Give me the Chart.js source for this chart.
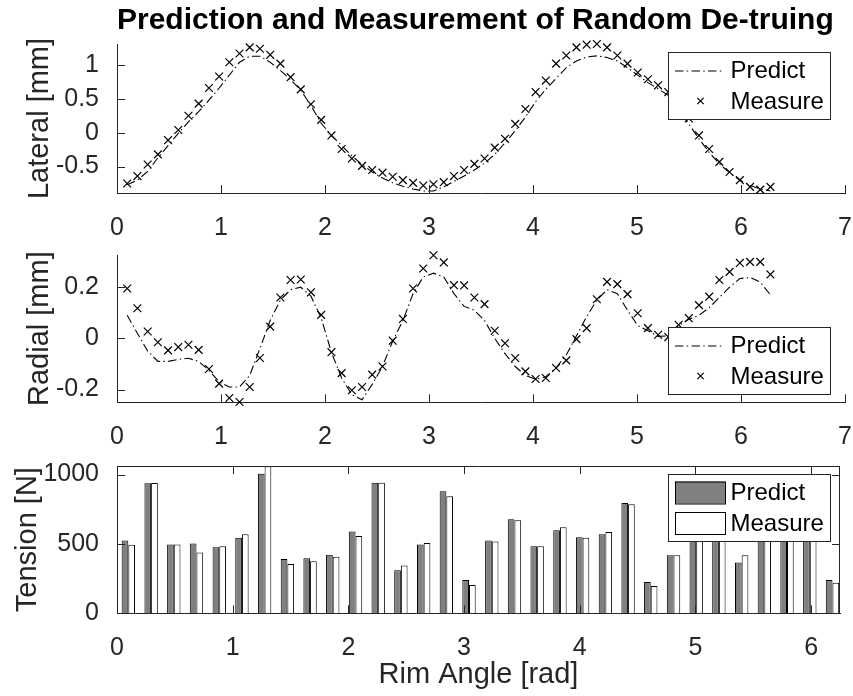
<!DOCTYPE html>
<html>
<head>
<meta charset="utf-8">
<script src="https://cdn.jsdelivr.net/npm/chart.js@4.4.0/dist/chart.umd.min.js"></script>
<style>
  html, body { margin: 0; padding: 0; background: #fff; }
  #fig { position: relative; width: 853px; height: 696px; }
  canvas { position: absolute; left: 0; }
</style>
</head>
<body>
<div id="fig">
  <canvas id="lateral" width="853" height="240" style="top:0"></canvas>
  <canvas id="radial" width="853" height="220" style="top:240px"></canvas>
  <canvas id="tension" width="853" height="236" style="top:460px"></canvas>
</div>
<script>
// sample angles [rad] of the measurements (64 per turn)
const angles = [0.098, 0.196, 0.295, 0.393, 0.491, 0.589, 0.687, 0.785, 0.884, 0.982,
  1.080, 1.178, 1.276, 1.374, 1.473, 1.571, 1.669, 1.767, 1.865, 1.963,
  2.062, 2.160, 2.258, 2.356, 2.454, 2.553, 2.651, 2.749, 2.847, 2.945,
  3.043, 3.142, 3.240, 3.338, 3.436, 3.534, 3.632, 3.731, 3.829, 3.927,
  4.025, 4.123, 4.222, 4.320, 4.418, 4.516, 4.614, 4.712, 4.811, 4.909,
  5.007, 5.105, 5.203, 5.301, 5.400, 5.498, 5.596, 5.694, 5.792, 5.890,
  5.989, 6.087, 6.185, 6.283];

const lateralPredict = [-0.77, -0.70, -0.57, -0.37, -0.19, -0.01, 0.16, 0.31, 0.48, 0.66,
  0.85, 1.04, 1.13, 1.13, 1.04, 0.92, 0.78, 0.63, 0.40, 0.14,
  -0.04, -0.19, -0.34, -0.47, -0.58, -0.67, -0.74, -0.79, -0.83, -0.86,
  -0.86, -0.80, -0.72, -0.64, -0.55, -0.45, -0.32, -0.15, 0.03, 0.23,
  0.46, 0.64, 0.80, 0.96, 1.06, 1.12, 1.135, 1.11, 1.06, 0.96,
  0.85, 0.74, 0.65, 0.55, 0.33, 0.13, -0.09, -0.29, -0.46, -0.59,
  -0.70, -0.78, -0.83, -0.86];
const lateralMeasure = [-0.75, -0.64, -0.47, -0.32, -0.11, 0.04, 0.25, 0.43, 0.66, 0.83,
  1.04, 1.17, 1.26, 1.24, 1.15, 1.02, 0.82, 0.64, 0.42, 0.19,
  -0.04, -0.24, -0.38, -0.49, -0.55, -0.59, -0.65, -0.70, -0.74, -0.78,
  -0.76, -0.73, -0.64, -0.55, -0.46, -0.38, -0.22, -0.09, 0.13, 0.35,
  0.60, 0.77, 1.02, 1.14, 1.26, 1.30, 1.31, 1.26, 1.14, 1.02,
  0.89, 0.79, 0.70, 0.60, 0.40, 0.21, -0.04, -0.24, -0.43, -0.58,
  -0.70, -0.80, -0.84, -0.80];

const radialPredict = [0.09, 0.02, -0.05, -0.09, -0.09, -0.082, -0.078, -0.09, -0.125, -0.17,
  -0.19, -0.19, -0.145, -0.04, 0.07, 0.15, 0.19, 0.20, 0.165, 0.08,
  -0.055, -0.155, -0.22, -0.24, -0.18, -0.11, -0.01, 0.07, 0.175, 0.24,
  0.255, 0.24, 0.175, 0.125, 0.11, 0.07, 0.0, -0.06, -0.11, -0.145,
  -0.16, -0.15, -0.115, -0.065, 0.01, 0.085, 0.15, 0.19, 0.175, 0.11,
  0.05, 0.03, 0.008, 0.01, 0.05, 0.075, 0.09, 0.12, 0.16, 0.20,
  0.234, 0.238, 0.22, 0.17];
const radialMeasure = [0.195, 0.118, 0.027, -0.015, -0.047, -0.034, -0.025, -0.045, -0.12, -0.177,
  -0.233, -0.249, -0.19, -0.077, 0.046, 0.16, 0.228, 0.23, 0.18, 0.092,
  -0.054, -0.136, -0.203, -0.19, -0.142, -0.11, -0.009, 0.076, 0.195, 0.273,
  0.325, 0.297, 0.208, 0.207, 0.16, 0.134, 0.03, -0.019, -0.077, -0.129,
  -0.159, -0.155, -0.116, -0.086, -0.003, 0.04, 0.153, 0.221, 0.212, 0.173,
  0.098, 0.04, 0.014, 0.005, 0.053, 0.079, 0.13, 0.163, 0.228, 0.26,
  0.295, 0.299, 0.299, 0.25];

// spoke angles [rad] (32 spokes)
const spokes = [0.098, 0.295, 0.491, 0.687, 0.884, 1.080, 1.276, 1.473, 1.669, 1.865,
  2.062, 2.258, 2.454, 2.651, 2.847, 3.043, 3.240, 3.436, 3.632, 3.829,
  4.025, 4.222, 4.418, 4.614, 4.811, 5.007, 5.203, 5.400, 5.596, 5.792,
  5.989, 6.185];
const tensionPredict = [525, 937, 496, 503, 477, 544, 1007, 391, 396, 422,
  590, 942, 311, 496, 880, 240, 525, 678, 484, 599,
  549, 570, 796, 225, 419, 650, 700, 367, 760, 620,
  580, 240];
const tensionMeasure = [494, 940, 496, 439, 484, 570, 1060, 355, 376, 407,
  558, 942, 345, 506, 844, 204, 518, 671, 484, 621,
  544, 587, 786, 196, 419, 640, 690, 419, 740, 640,
  560, 220];

// tick labels
const angleTicks = [0, 1, 2, 3, 4, 5, 6, 7];
const spokeAngleTicks = [0, 1, 2, 3, 4, 5, 6];
const lateralTicks = [-0.5, 0, 0.5, 1];
const radialTicks = [-0.2, 0, 0.2];
const tensionTicks = [0, 500, 1000];

const FONT = '"Liberation Sans", Arial, Helvetica, sans-serif';
const AXIS = '#262626';
Chart.defaults.font.family = FONT;
Chart.defaults.font.size = 25;
Chart.defaults.color = AXIS;
Chart.defaults.animation = false;

const pts = (xs, ys) => xs.map((x, i) => ({ x: x, y: ys[i] }));
const fixTicks = list => s => { s.ticks = list.map(v => ({ value: v })); };

// matlab look: inward ticks, optional box, legend inside the axes
const matlabAxes = {
  id: 'matlabAxes',
  afterDatasetsDraw(chart, args, opts) {
    const lg = opts.legend;
    if (!lg) return;
    const ctx = chart.ctx;
    const ds = chart.data.datasets;
    ctx.save();
    ctx.fillStyle = '#fff';
    ctx.fillRect(lg.x, lg.y, lg.w, lg.h);
    ctx.strokeStyle = AXIS;
    ctx.lineWidth = 1;
    ctx.strokeRect(lg.x + 0.5, lg.y + 0.5, lg.w, lg.h);
    const rows = [lg.y + 18.5, lg.y + 49];
    ds.forEach((d, i) => {
      const y = rows[i];
      ctx.strokeStyle = '#000';
      if (lg.kind === 'bar') {
        ctx.lineWidth = 1;
        ctx.fillStyle = d.backgroundColor;
        ctx.fillRect(lg.x + 7, y - 11, 50, 22);
        ctx.strokeRect(lg.x + 7.5, y - 10.5, 50, 22);
      } else if (d.showLine) {
        ctx.lineWidth = 1.2;
        ctx.setLineDash(d.borderDash);
        ctx.beginPath();
        ctx.moveTo(lg.x + 7, y + 0.5);
        ctx.lineTo(lg.x + 55, y + 0.5);
        ctx.stroke();
        ctx.setLineDash([]);
      } else {
        ctx.lineWidth = 1.2;
        Chart.helpers.drawPoint(ctx, { pointStyle: 'crossRot', radius: 4.5, borderWidth: 1.2 }, lg.x + 32.5, y);
      }
      ctx.fillStyle = '#000';
      ctx.font = '24px ' + FONT;
      ctx.textBaseline = 'middle';
      ctx.fillText(d.label, lg.x + 62.5, y + 1);
    });
    ctx.restore();
  },
  afterDraw(chart, args, opts) {
    const { ctx, chartArea: a, scales } = chart;
    const len = 8;
    ctx.save();
    ctx.strokeStyle = AXIS;
    ctx.lineWidth = 1;
    ctx.beginPath();
    scales.x.ticks.forEach(t => {
      const px = Math.round(scales.x.getPixelForValue(t.value)) + 0.5;
      ctx.moveTo(px, a.bottom); ctx.lineTo(px, a.bottom - len);
      if (opts.box) { ctx.moveTo(px, a.top); ctx.lineTo(px, a.top + len); }
    });
    scales.y.ticks.forEach(t => {
      const py = Math.round(scales.y.getPixelForValue(t.value)) + 0.5;
      ctx.moveTo(a.left, py); ctx.lineTo(a.left + len, py);
      if (opts.box) { ctx.moveTo(a.right, py); ctx.lineTo(a.right - len, py); }
    });
    if (opts.box) {
      ctx.moveTo(a.left, Math.round(a.top) + 0.5); ctx.lineTo(a.right, Math.round(a.top) + 0.5);
      ctx.moveTo(Math.round(a.right) - 0.5, a.top); ctx.lineTo(Math.round(a.right) - 0.5, a.bottom);
    }
    ctx.stroke();
    ctx.restore();
  }
};

function xAxis(max, tickList, height, extra) {
  return Object.assign({
    type: 'linear', min: 0, max: max, offset: false,
    grid: { display: false, offset: false },
    border: { color: AXIS, width: 1 },
    ticks: { padding: 12, maxRotation: 0, autoSkip: false, callback: v => String(v) },
    afterBuildTicks: fixTicks(tickList),
    afterFit: s => { s.height = height; s.paddingLeft = 0; s.paddingRight = 0; }
  }, extra || {});
}

function yAxis(min, max, tickList, label, titlePad) {
  return {
    type: 'linear', min: min, max: max,
    grid: { display: false },
    border: { color: AXIS, width: 1 },
    ticks: { padding: 10, callback: v => String(v) },
    afterBuildTicks: fixTicks(tickList),
    title: { display: true, text: label, font: { size: 29 }, color: AXIS, padding: { top: titlePad, bottom: 0 } },
    afterFit: s => { s.width = 117; s.paddingTop = 0; s.paddingBottom = 0; }
  };
}

function lineSets(pred, meas) {
  return [
    { label: 'Predict', data: pts(angles, pred), showLine: true, borderColor: '#000', borderWidth: 1.1,
      borderDash: [8.5, 3.3, 1.4, 3.3], pointRadius: 0, tension: 0, fill: false },
    { label: 'Measure', data: pts(angles, meas), showLine: false, pointStyle: 'crossRot', pointRadius: 5.5,
      pointBorderColor: '#000', pointBackgroundColor: '#000', pointBorderWidth: 1.2, clip: false }
  ];
}

new Chart(document.getElementById('lateral'), {
  type: 'scatter',
  data: { datasets: lineSets(lateralPredict, lateralMeasure) },
  plugins: [matlabAxes],
  options: {
    responsive: false, events: [],
    layout: { padding: { left: 0, right: 8, top: 0, bottom: 0 } },
    plugins: {
      legend: { display: false }, tooltip: { enabled: false },
      title: { display: true, fullSize: false, align: 'start', text: 'Prediction and Measurement of Random De-truing',
        color: '#000', font: { size: 30, weight: 'bold' }, padding: { top: 3, bottom: 5 } },
      matlabAxes: { legend: { x: 668, y: 52, w: 162, h: 67, kind: 'line' } }
    },
    scales: { x: xAxis(7, angleTicks, 47), y: yAxis(-0.89, 1.31, lateralTicks, 'Lateral [mm]', 22.6) }
  }
});

new Chart(document.getElementById('radial'), {
  type: 'scatter',
  data: { datasets: lineSets(radialPredict, radialMeasure) },
  plugins: [matlabAxes],
  options: {
    responsive: false, events: [],
    layout: { padding: { left: 0, right: 8, top: 15, bottom: 0 } },
    plugins: {
      legend: { display: false }, tooltip: { enabled: false },
      matlabAxes: { legend: { x: 668, y: 87, w: 162, h: 67, kind: 'line' } }
    },
    scales: { x: xAxis(7, angleTicks, 57.7), y: yAxis(-0.25, 0.326, radialTicks, 'Radial [mm]', 22.6) }
  }
});

new Chart(document.getElementById('tension'), {
  type: 'bar',
  data: {
    datasets: [
      { label: 'Predict', data: pts(spokes, tensionPredict), backgroundColor: '#808080', borderColor: '#000', borderWidth: 1 },
      { label: 'Measure', data: pts(spokes, tensionMeasure), backgroundColor: '#ffffff', borderColor: '#000', borderWidth: 1 }
    ]
  },
  plugins: [matlabAxes],
  options: {
    responsive: false, events: [],
    layout: { padding: { left: 0, right: 13, top: 6, bottom: 0 } },
    datasets: { bar: { barPercentage: 1, categoryPercentage: 0.59 } },
    plugins: {
      legend: { display: false }, tooltip: { enabled: false },
      matlabAxes: { box: true, legend: { x: 668, y: 14, w: 162, h: 67, kind: 'bar' } }
    },
    scales: {
      x: xAxis(6.25, spokeAngleTicks, 82.7, { title: { display: true, text: 'Rim Angle [rad]', font: { size: 29 }, color: AXIS, padding: { top: 0, bottom: 4.1 } } }),
      y: yAxis(0, 1062, tensionTicks, 'Tension [N]', 10.6)
    }
  }
});
</script>
</body>
</html>
